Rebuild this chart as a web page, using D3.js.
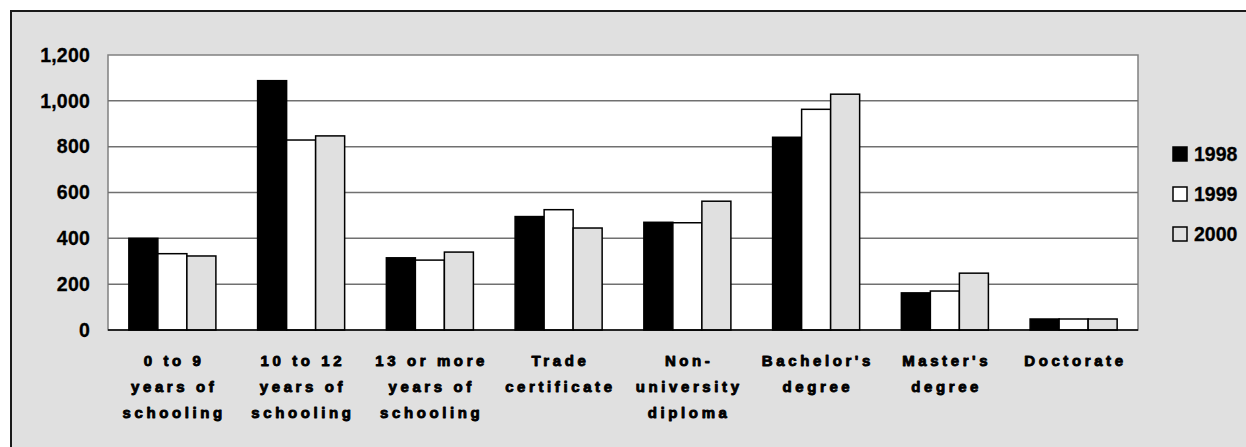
<!DOCTYPE html>
<html><head><meta charset="utf-8">
<script src="https://cdn.jsdelivr.net/npm/d3@7"></script>
<style>html,body{margin:0;padding:0;background:#fff;}svg{display:block;}</style>
</head><body>
<script>
const categories = ["0 to 9\nyears of\nschooling","10 to 12\nyears of\nschooling","13 or more\nyears of\nschooling","Trade\ncertificate","Non-\nuniversity\ndiploma","Bachelor's\ndegree","Master's\ndegree","Doctorate"];
const seriesNames = ["1998","1999","2000"];
const v1998 = [400, 1088, 315, 495, 470, 841, 162, 48];
const v1999 = [333, 829, 305, 525, 468, 963, 170, 48];
const v2000 = [323, 847, 340, 445, 562, 1029, 248, 48];
const yTicks = [0,200,400,600,800,1000,1200];
const seriesValues = [v1998, v1999, v2000];
const fills = ["#000000","#ffffff","#e0e0e0"];

const W = 1246, H = 447;
const L = 108, R = 1138, T = 55, B = 330;
const svg = d3.select("body").append("svg").attr("width", W).attr("height", H);
svg.append("rect").attr("x",11).attr("y",11).attr("width",W).attr("height",H).attr("fill","#e0e0e0").attr("stroke","#1a1a1a").attr("stroke-width",2);

const x0 = d3.scaleBand().domain(d3.range(categories.length)).range([L,R]).paddingInner(0.324).paddingOuter(0.162);
const x1 = d3.scaleBand().domain(d3.range(seriesNames.length)).range([0,x0.bandwidth()]);
const y = d3.scaleLinear().domain([0,1200]).range([B,T]);

svg.append("rect").attr("x",L).attr("y",T).attr("width",R-L).attr("height",B-T).attr("fill","#fff").attr("stroke","#808080").attr("stroke-width",1.5);
svg.append("g").selectAll("line").data(yTicks.filter(d=>d>0 && d<1200)).join("line")
  .attr("x1",L).attr("x2",R).attr("y1",d=>y(d)).attr("y2",d=>y(d)).attr("stroke","#707070").attr("stroke-width",1.5);

const gy = svg.append("g").attr("transform",`translate(${L},0)`).call(d3.axisLeft(y).tickValues(yTicks).tickFormat(d3.format(",")).tickSize(0).tickPadding(18));
gy.select(".domain").remove();
gy.selectAll("text").attr("font-family","Liberation Sans, Arial, sans-serif").attr("font-weight","bold").attr("font-size","19.5px").attr("fill","#000").attr("letter-spacing","0.2px").attr("stroke","#000").attr("stroke-width",0.3);

const groups = svg.append("g").selectAll("g").data(categories).join("g").attr("transform",(d,i)=>`translate(${x0(i)},0)`);
groups.selectAll("rect").data((d,i)=>seriesValues.map((s,j)=>({j, v:s[i]}))).join("rect")
  .attr("x",d=>x1(d.j)).attr("width",x1.bandwidth()).attr("y",d=>y(d.v)).attr("height",d=>B-y(d.v))
  .attr("fill",d=>fills[d.j]).attr("stroke","#000").attr("stroke-width",1.5);

svg.append("line").attr("x1",L).attr("x2",R).attr("y1",B).attr("y2",B).attr("stroke","#000").attr("stroke-width",1.5);

const gx = svg.append("g");
categories.forEach((c,i)=>{
  const cx = x0(i)+x0.bandwidth()/2;
  const t = gx.append("text").attr("x",cx).attr("y",366).attr("text-anchor","middle")
    .attr("font-family","Liberation Sans, Arial, sans-serif").attr("font-weight","bold").attr("font-size","15px").attr("letter-spacing","3.6px")
    .attr("stroke","#000").attr("stroke-width",0.9).attr("stroke-linejoin","round");
  c.split("\n").forEach((ln,k)=>{
    t.append("tspan").attr("x",cx+1.8).attr("dy",k===0?0:26).text(ln);
  });
});

const lg = svg.append("g");
seriesNames.forEach((s,i)=>{
  const cy = 154 + i*40;
  lg.append("rect").attr("x",1173).attr("y",cy-7).attr("width",14).attr("height",14).attr("fill",fills[i]).attr("stroke","#000").attr("stroke-width",1.5);
  lg.append("text").attr("x",1194).attr("y",cy+7).text(s).attr("font-family","Liberation Sans, Arial, sans-serif").attr("font-weight","bold").attr("font-size","19.5px").attr("stroke","#000").attr("stroke-width",0.3);
});
</script>
</body></html>
